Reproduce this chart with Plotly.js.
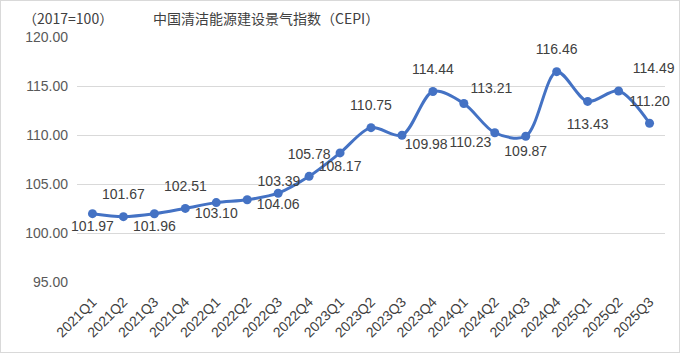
<!DOCTYPE html>
<html>
<head>
<meta charset="utf-8">
<script src="https://cdn.plot.ly/plotly-3.0.1.min.js"></script>
<style>
html,body{margin:0;padding:0;background:#fff;}
#chart{width:678px;height:351px;border:1px solid #d9d9d9;}
</style>
</head>
<body>
<div id="chart"></div>
<script>
const quarters = ["2021Q1","2021Q2","2021Q3","2021Q4","2022Q1","2022Q2","2022Q3","2022Q4","2023Q1","2023Q2","2023Q3","2023Q4","2024Q1","2024Q2","2024Q3","2024Q4","2025Q1","2025Q2","2025Q3"];
const cepi = [101.97,101.67,101.96,102.51,103.10,103.39,104.06,105.78,108.17,110.75,109.98,114.44,113.21,110.23,109.87,116.46,113.43,114.49,111.20];
const labelPos = ["bottom center","top center","bottom center","top center","bottom center","top right","bottom center","top center","bottom center","top center","bottom right","top center","top right","bottom left","bottom center","top center","bottom center","top right","top center"];
const labelGap = [9,21,9,21,7,15,7,21,11,21,3,21,9,4,13,21,25,21,21];
const yTicks = [95,100,105,110,115,120];

const lineTrace = {
  x: quarters,
  y: cepi,
  type: "scatter",
  mode: "lines+markers",
  line: {color: "#4472C4", width: 3, shape: "spline", smoothing: 0.9},
  marker: {color: "#4472C4", size: 9},
  hoverinfo: "x+y"
};

const labelTrace = {
  x: quarters,
  y: cepi,
  type: "scatter",
  mode: "markers+text",
  marker: {size: labelGap, color: "rgba(0,0,0,0)", opacity: 0, line: {width: 0}},
  text: cepi.map(v => v.toFixed(2)),
  textposition: labelPos,
  textfont: {family: "Liberation Sans, Arial, sans-serif", size: 14, color: "#404040"},
  cliponaxis: false,
  hoverinfo: "skip"
};

const layout = {
  width: 678,
  height: 351,
  margin: {l: 76, r: 14, t: 36, b: 70},
  paper_bgcolor: "#fff",
  plot_bgcolor: "#fff",
  showlegend: false,
  font: {family: "Liberation Sans, Arial, Noto Sans CJK SC, sans-serif", color: "#595959"},
  xaxis: {
    type: "category",
    tickangle: -45,
    tickfont: {size: 14, color: "#404040"},
    showgrid: false,
    showline: false,
    ticks: "",
    ticklabelstandoff: 8,
    range: [-0.5, quarters.length - 0.5]
  },
  yaxis: {
    range: [95, 120],
    tickvals: yTicks,
    tickformat: ".2f",
    tickfont: {size: 14, color: "#595959"},
    gridcolor: "#d9d9d9",
    gridwidth: 1,
    zeroline: false,
    showline: false,
    ticks: "",
    ticklabelstandoff: 8
  },
  annotations: [
    {text: "（2017=100）", xref: "paper", yref: "paper", x: -0.095, y: 1.0, yshift: 19, xanchor: "left", yanchor: "middle", showarrow: false,
     font: {family: "Noto Sans CJK SC, sans-serif", size: 14, color: "#404040"}},
    {text: "中国清洁能源建设景气指数（CEPI）", xref: "paper", yref: "paper", x: 0.125, y: 1.0, yshift: 19, xanchor: "left", yanchor: "middle", showarrow: false,
     font: {family: "Noto Sans CJK SC, sans-serif", size: 14, color: "#404040"}}
  ]
};

Plotly.newPlot("chart", [lineTrace, labelTrace], layout, {displayModeBar: false, staticPlot: true});
</script>
</body>
</html>
